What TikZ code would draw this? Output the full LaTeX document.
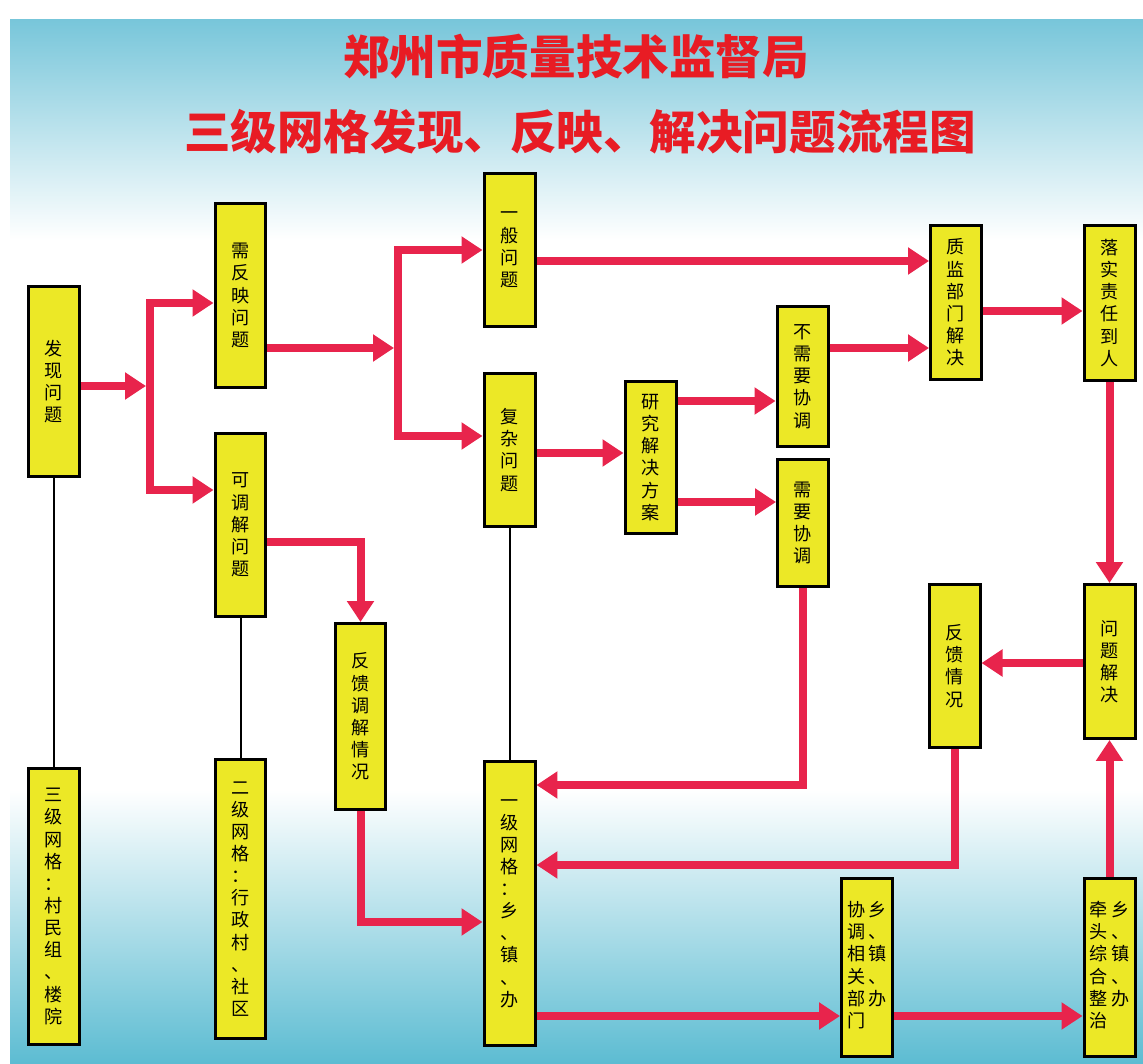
\documentclass[tikz,border=0pt]{standalone}
\usepackage{fontspec}
\usepackage{tikz}
\usetikzlibrary{arrows.meta, positioning}
\newfontfamily\cjk{Noto Sans CJK SC}
\definecolor{boxyellow}{RGB}{236,232,38}
\definecolor{flowred}{RGB}{232,36,76}
\definecolor{titlered}{RGB}{232,28,36}
\definecolor{skyblue}{RGB}{120,198,218}
\definecolor{seablue}{RGB}{92,188,210}
\tikzset{
    box/.style={draw, line width=0.06cm, fill=boxyellow, inner sep=0pt,
        minimum width=1.02cm, minimum height=#1, align=center,
        font=\cjk\fontsize{10.3}{12.6}\selectfont}, % yellow upright boxes
    flow/.style={draw=flowred, line width=0.16cm,
        -{Triangle[length=0.42cm, width=0.52cm]}}, % thick red arrows
    bar/.style={draw=flowred, line width=0.16cm, line cap=rect}, % branching bars
    link/.style={draw, line width=0.04cm}, % thin black lines to the grid levels
    headline/.style={text=titlered, font=\cjk\bfseries\fontsize{26.5}{30}\selectfont},
}
\begin{document}
\begin{tikzpicture}[x=0.02cm, y=-0.02cm]
\useasboundingbox (0,0) rectangle (1143,1064);
% background
\fill[white] (0,0) rectangle (1143,1064);
\shade[top color=skyblue, bottom color=white] (10,20) rectangle (1143,240);
\shade[top color=white, bottom color=seablue] (10,790) rectangle (1143,1064);

% title
\node[headline] (head)  at (576,57)  {郑州市质量技术监督局};
\node[headline] (title) at (580,132) {三级网格发现、反映、解决问题流程图};

% boxes
\node[box=3.80cm] (faxian)    at (54,381.5)    {发\\现\\问\\题};
\node[box=3.68cm] (xufanying) at (240.5,295.5) {需\\反\\映\\问\\题};
\node[box=3.66cm] (kediaojie) at (240.5,525)   {可\\调\\解\\问\\题};
\node[box=3.06cm] (yiban)     at (509.5,250)   {一\\般\\问\\题};
\node[box=3.06cm] (fuza)      at (509.5,450)   {复\\杂\\问\\题};
\node[box=3.04cm] (yanjiu)    at (650.5,457.5) {研\\究\\解\\决\\方\\案};
\node[box=2.80cm] (buxuyao)   at (802.5,376.5) {不\\需\\要\\协\\调};
\node[box=2.54cm] (xuyao)     at (803,523)     {需\\要\\协\\调};
\node[box=3.08cm] (zhijian)   at (956,302.5)   {质\\监\\部\\门\\解\\决};
\node[box=3.10cm] (luoshi)    at (1109.5,303)  {落\\实\\责\\任\\到\\人};
\node[box=3.08cm] (jiejue)    at (1109.5,661.5) {问\\题\\解\\决};
\node[box=3.26cm] (fankui)    at (954.5,666)   {反\\馈\\情\\况};
\node[box=3.72cm] (fankuitj)  at (360.5,716.5) {反\\馈\\调\\解\\情\\况};
\node[box=5.52cm] (sanji)     at (54,906.5)    {三\\级\\网\\格\\：\\村\\民\\组\\、\\楼\\院};
\node[box=5.58cm] (erji)      at (240.5,899)   {二\\级\\网\\格\\：\\行\\政\\村\\、\\社\\区};
\node[box=5.68cm] (yiji)      at (509.5,903.5) {一\\级\\网\\格\\：\\乡\\、\\镇\\、\\办};
\node[box=3.56cm] (xietiao)   at (867,967.5)
    {\begin{tabular}{@{}c@{\hspace{2pt}}c@{}}协&乡\\调&、\\相&镇\\关&、\\部&办\\门&\end{tabular}};
\node[box=3.56cm] (qiantou)   at (1109.5,967.5)
    {\begin{tabular}{@{}c@{\hspace{2pt}}c@{}}牵&乡\\头&、\\综&镇\\合&、\\整&办\\治&\end{tabular}};

% branch points and arrow rows
\coordinate (j1)  at (146,386);
\coordinate (j1a) at (150,303);
\coordinate (j1b) at (150,490);
\coordinate (j2)  at (394,348);
\coordinate (j2a) at (398,250);
\coordinate (j2b) at (398,436);
\coordinate (r1)  at (0,542);
\coordinate (r2)  at (0,922);
\coordinate (r3)  at (0,261);
\coordinate (r4)  at (0,453);
\coordinate (r5)  at (0,401);
\coordinate (r6)  at (0,502);
\coordinate (r7)  at (0,348);
\coordinate (r8)  at (0,311);
\coordinate (r9)  at (0,663);
\coordinate (r10) at (0,785);
\coordinate (r11) at (0,865);
\coordinate (r12) at (0,1016);

% thin links
\draw[link] (faxian) -- (sanji);
\draw[link] (kediaojie) -- (erji);
\draw[link] (fuza) -- (yiji);

% flow
\draw[flow] (faxian.east |- j1) -- (j1);
\draw[bar]  (j1a) -- (j1b);
\draw[flow] (j1a) -- (xufanying.west |- j1a);
\draw[flow] (j1b) -- (kediaojie.west |- j1b);
\draw[flow] (xufanying.east |- j2) -- (j2);
\draw[bar]  (j2a) -- (j2b);
\draw[flow] (j2a) -- (yiban.west |- j2a);
\draw[flow] (j2b) -- (fuza.west |- j2b);
\draw[flow] (kediaojie.east |- r1) -| (fankuitj.north);
\draw[flow] (fankuitj.south) |- (yiji.west |- r2);
\draw[flow] (yiban.east |- r3) -- (zhijian.west |- r3);
\draw[flow] (fuza.east |- r4) -- (yanjiu.west |- r4);
\draw[flow] (yanjiu.east |- r5) -- (buxuyao.west |- r5);
\draw[flow] (yanjiu.east |- r6) -- (xuyao.west |- r6);
\draw[flow] (buxuyao.east |- r7) -- (zhijian.west |- r7);
\draw[flow] (zhijian.east |- r8) -- (luoshi.west |- r8);
\draw[flow] (luoshi.south) -- (jiejue.north);
\draw[flow] (jiejue.west |- r9) -- (fankui.east |- r9);
\draw[flow] (xuyao.south) |- (yiji.east |- r10);
\draw[flow] (fankui.south) |- (yiji.east |- r11);
\draw[flow] (yiji.east |- r12) -- (xietiao.west |- r12);
\draw[flow] (xietiao.east |- r12) -- (qiantou.west |- r12);
\draw[flow] (qiantou.north) -- (jiejue.south);
\end{tikzpicture}
\end{document}
